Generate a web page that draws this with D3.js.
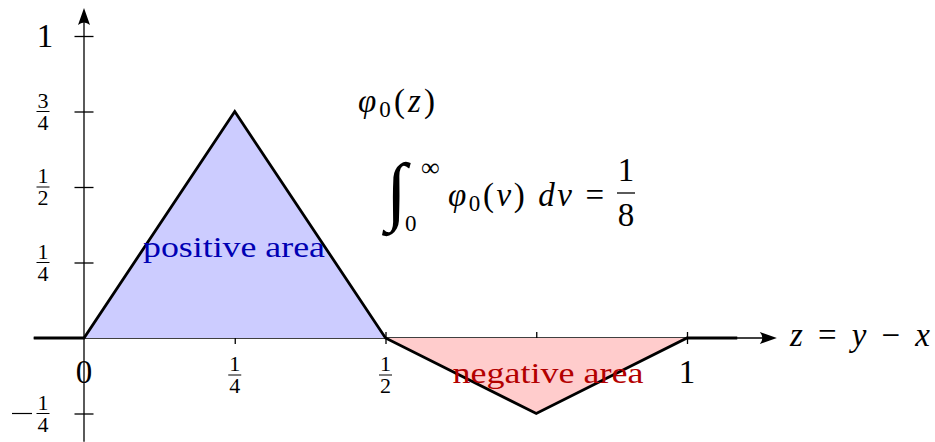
<!DOCTYPE html>
<html>
<head>
<meta charset="utf-8">
<script src="https://cdn.jsdelivr.net/npm/d3@7"></script>
<style>
  html, body { margin: 0; padding: 0; background: #fff; }
  svg { display: block; }
</style>
</head>
<body>
<svg id="chart" width="935" height="442"></svg>
<script>
// Piecewise-linear kernel phi_0(z)
const zKnots = [-1/12, 0, 1/4, 1/2, 3/4, 1, 13/12];
const phiValues = [0, 0, 3/4, 0, -1/4, 0, 0];

// Axis extents (data units)
const xAxisRange = [-1/12, 1.149];
const yAxisRange = [-1/3, 1.093];

// Ticks and their labels (numerator / denominator, or plain text)
const xTicks = [1/4, 1/2, 3/4, 1];
const xTickLabels = [
  { v: 0, text: "0" },
  { v: 1/4, num: "1", den: "4" },
  { v: 1/2, num: "1", den: "2" },
  { v: 1, text: "1" }
];
const yTicks = [-1/4, 1/4, 1/2, 3/4, 1];
const yTickLabels = [
  { v: 1, text: "1" },
  { v: 3/4, num: "3", den: "4" },
  { v: 1/2, num: "1", den: "2" },
  { v: 1/4, num: "1", den: "4" },
  { v: -1/4, num: "1", den: "4", neg: true }
];

const FONT = '"Liberation Serif", "Times New Roman", serif';

const svg = d3.select("#chart");
const x = d3.scaleLinear().domain([0, 1]).range([84, 687]);
const y = d3.scaleLinear().domain([0, 1]).range([338, 36]);

const pts = zKnots.map((z, i) => ({ z, v: phiValues[i] }));

function txt(g, px, py, size, str, opts = {}) {
  const t = g.append("text").attr("x", px).attr("y", py)
    .style("font-family", FONT).style("font-size", size + "px")
    .style("fill", opts.color || "#000");
  if (opts.anchor) t.attr("text-anchor", opts.anchor);
  if (opts.italic) t.style("font-style", "italic");
  if (str != null) t.text(str);
  return t;
}

// ---- axes ----
const axes = svg.append("g");
const xAx = axes.append("g")
  .attr("transform", `translate(0,${y(0) - 6})`)
  .call(d3.axisBottom(x).tickValues(xTicks).tickSize(12).tickFormat(""));
xAx.select(".domain").remove();
xAx.selectAll(".tick line").attr("stroke", "#000").attr("stroke-width", 1.3);

const yAx = axes.append("g")
  .attr("transform", `translate(${x(0) + 9.5},0)`)
  .call(d3.axisLeft(y).tickValues(yTicks).tickSize(19).tickFormat(""));
yAx.select(".domain").remove();
yAx.selectAll(".tick line").attr("stroke", "#000").attr("stroke-width", 1.3);

// axis lines
axes.append("line")
  .attr("x1", x(xAxisRange[0])).attr("x2", x(xAxisRange[1]) - 4)
  .attr("y1", y(0)).attr("y2", y(0))
  .attr("stroke", "#000").attr("stroke-width", 1.3);
axes.append("line")
  .attr("x1", x(0)).attr("x2", x(0))
  .attr("y1", y(yAxisRange[0]) + 3).attr("y2", y(yAxisRange[1]) + 4)
  .attr("stroke", "#000").attr("stroke-width", 1.3);

// arrowheads (LaTeX style)
function arrowHead(tx, ty, angle) {
  axes.append("path")
    .attr("d", "M0,0 L-17,-6 Q-12,0 -17,6 Z")
    .attr("transform", `translate(${tx},${ty}) rotate(${angle})`)
    .attr("fill", "#000");
}
arrowHead(x(xAxisRange[1]), y(0), 0);
arrowHead(x(0), y(yAxisRange[1]), -90);

// ---- shaded areas ----
const area = d3.area().x(d => x(d.z)).y0(y(0)).y1(d => y(d.v));
const posPts = pts.filter(d => d.z >= 0 && d.z <= 1/2);
const negPts = pts.filter(d => d.z >= 1/2 && d.z <= 1);
svg.append("path").datum(posPts).attr("d", area).attr("fill", "#ccccff");
svg.append("path").datum(negPts).attr("d", area).attr("fill", "#ffcccc");

// ---- kernel curve ----
const line = d3.line().x(d => x(d.z)).y(d => y(d.v));
svg.append("path").datum(pts).attr("d", line)
  .attr("fill", "none").attr("stroke", "#000")
  .attr("stroke-width", 2.8).attr("stroke-linejoin", "miter");

// ---- tick labels ----
function fraction(g, cx, cy, num, den, size, barW) {
  txt(g, cx, cy - 4, size, num, { anchor: "middle" });
  g.append("line").attr("x1", cx - barW / 2).attr("x2", cx + barW / 2)
    .attr("y1", cy).attr("y2", cy).attr("stroke", "#000").attr("stroke-width", 1);
  txt(g, cx, cy + 18, size, den, { anchor: "middle" });
}

const labels = svg.append("g");
yTickLabels.forEach(d => {
  if (d.text) {
    txt(labels, 45, y(d.v) + 11, 33, d.text, { anchor: "middle" });
  } else {
    fraction(labels, 43, y(d.v), d.num, d.den, 22, 13);
    if (d.neg) {
      labels.append("line").attr("x1", 12).attr("x2", 32)
        .attr("y1", y(d.v)).attr("y2", y(d.v))
        .attr("stroke", "#000").attr("stroke-width", 1.2);
    }
  }
});
xTickLabels.forEach(d => {
  if (d.text) {
    txt(labels, x(d.v), 383, 33, d.text, { anchor: "middle" });
  } else {
    fraction(labels, x(d.v), 375, d.num, d.den, 22, 13);
  }
});

// axis title
const zt = txt(labels, 790, 346, 33, null)
  .attr("textLength", 140).attr("lengthAdjust", "spacing");
zt.append("tspan").style("font-style", "italic").text("z");
zt.append("tspan").text(" = ");
zt.append("tspan").style("font-style", "italic").text("y");
zt.append("tspan").text(" − ");
zt.append("tspan").style("font-style", "italic").text("x");

// function name
const fn = txt(labels, 358, 112, 33, null)
  .attr("textLength", 77).attr("lengthAdjust", "spacing");
fn.append("tspan").style("font-style", "italic").text("φ");
fn.append("tspan").style("font-size", "23px").attr("dy", 5).text("0");
fn.append("tspan").attr("dy", -5).text("(");
fn.append("tspan").style("font-style", "italic").text("z");
fn.append("tspan").text(")");

// integral identity
txt(labels, 386, 216, 76, "∫", { italic: true });
txt(labels, 421, 176, 26, "∞");
txt(labels, 405, 231, 23, "0");
const integ = txt(labels, 448, 206, 33, null)
  .attr("textLength", 156).attr("lengthAdjust", "spacing");
integ.append("tspan").style("font-style", "italic").text("φ");
integ.append("tspan").style("font-size", "23px").attr("dy", 5).text("0");
integ.append("tspan").attr("dy", -5).text("(");
integ.append("tspan").style("font-style", "italic").text("v");
integ.append("tspan").text(") ");
integ.append("tspan").style("font-style", "italic").text("dv");
integ.append("tspan").text(" =");
txt(labels, 626, 181, 33, "1", { anchor: "middle" });
labels.append("line").attr("x1", 617).attr("x2", 635).attr("y1", 193).attr("y2", 193)
  .attr("stroke", "#000").attr("stroke-width", 1.3);
txt(labels, 626, 226, 33, "8", { anchor: "middle" });

// area annotations
txt(labels, 234, 257, 30, "positive area", { anchor: "middle", color: "#0000b3" })
  .attr("textLength", 182).attr("lengthAdjust", "spacingAndGlyphs");
txt(labels, 548, 383, 30, "negative area", { anchor: "middle", color: "#b30000" })
  .attr("textLength", 191).attr("lengthAdjust", "spacingAndGlyphs");
</script>
</body>
</html>
